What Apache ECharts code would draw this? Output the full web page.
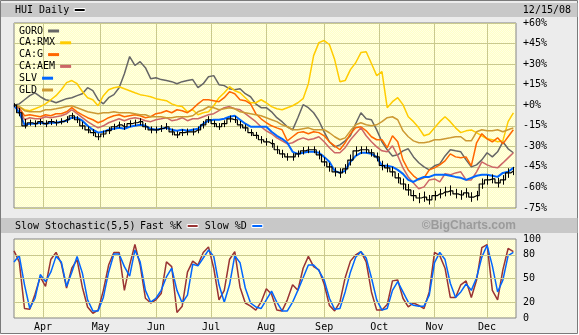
<!DOCTYPE html>
<html>
<head>
<meta charset="utf-8">
<script src="https://cdn.jsdelivr.net/npm/echarts@6/dist/echarts.min.js"></script>
<style>
  html, body { margin: 0; padding: 0; background: #ffffff; }
  #chart { width: 579px; height: 335px; }
</style>
</head>
<body>
<div id="chart"></div>
<script>
// HUI daily (Mar 14 – Dec 15, 2008) with relative-performance comparisons and a slow stochastic pane.
// One sample every two trading sessions; values are % change from the first session.

const SESSION_COUNT = 192;
const monthNames    = ['Apr', 'May', 'Jun', 'Jul', 'Aug', 'Sep', 'Oct', 'Nov', 'Dec'];
const monthStartDay = [11, 33, 54, 75, 96, 118, 139, 160, 180];
const pctMin = -75, pctMax = 60, pctStep = 15;
const stochLabels = [0, 20, 50, 80, 100];
const stochGuides = [20, 50, 80];

const huiClose = [
  0, -5.5, -15, -12.8, -13.5, -12, -13.5, -12, -12.8, -12, -10.6, -7.7,
  -10.6, -15, -18, -20, -23, -21, -18.5, -15.7, -14.3, -15.7, -13.5, -12.8,
  -12, -15.7, -18, -18, -17, -15.7, -19.5, -21.6, -20, -19.4, -19.4, -18,
  -14.3, -10.6, -13.5, -15.7, -13.5, -10, -10.6, -14.3, -16.5, -20, -22, -25.2,
  -26.7, -28, -32.5, -35.5, -37.7, -37.7, -35.5, -33.3, -32.5, -32.5, -36.2, -41.3,
  -45, -48.6, -49.4, -46.5, -40, -33.3, -32.5, -32.5, -34.7, -37.7, -44, -45.7,
  -48.6, -53, -57.5, -61.8, -66, -67.7, -67, -69, -66, -64.7, -63.3, -62.5,
  -64.7, -65.5, -64, -67, -66, -57.5, -54.5, -53.8, -56.7, -54.5, -49.4, -48
];
const huiHigh = [
  1.5, -2, -10, -10.5, -11, -10, -11, -10, -10.5, -9.5, -8, -5.5,
  -8, -12, -15.5, -17.5, -20.5, -18.5, -16, -13.5, -12, -13, -11, -10.5,
  -9.5, -13, -15.5, -15.5, -14.5, -13, -17, -19, -17.5, -17, -17, -15.5,
  -11.5, -8, -11, -13, -11, -7.5, -8, -11.5, -14, -17.5, -19.5, -22.5,
  -24, -25, -29.5, -32.5, -35, -35, -33, -30.5, -30, -30, -33, -38,
  -42, -45.5, -46, -43, -36, -30, -30, -30, -32, -34.5, -40.5, -42.5,
  -45, -49.5, -53.5, -57.5, -62, -64, -63, -65.5, -62.5, -61, -59.5, -58.5,
  -61, -62, -60.5, -63.5, -62.5, -53.5, -51, -50.5, -53, -51, -46, -45
];
const huiLow = [
  -1.5, -8, -17, -15, -16, -14.5, -16, -14.5, -15, -14, -13, -10,
  -13, -17.5, -20.5, -22.5, -25.5, -23.5, -21, -18, -16.5, -18, -16, -15,
  -14.5, -18, -20.5, -20.5, -19.5, -18, -22, -24, -22.5, -22, -22, -20.5,
  -17, -13, -16, -18, -16, -12.5, -13, -17, -19, -22.5, -24.5, -28,
  -29.5, -31, -35.5, -38.5, -40.5, -40.5, -38, -36, -35, -35, -39.5, -44.5,
  -48.5, -52, -53, -50, -44, -37, -35.5, -35, -37.5, -41, -47.5, -49,
  -52, -57, -61.5, -66, -70, -71.5, -70.5, -72.5, -69.5, -68, -66.5, -66,
  -68, -69, -67.5, -70.5, -69.5, -61, -58, -57, -60, -58, -53, -51
];

const goro = [
  0, 1, 4, 7, 9, 6.2, 4, 3.3, 1.8, 3.3, 4.8, 5.5,
  7, 8.4, 12.8, 10.6, 4, 1, 5.5, 7.7, 12.8, 23, 35.5, 29,
  31.8, 27.4, 19.4, 20, 18.7, 18, 17.2, 15.7, 17.2, 18, 18.7, 12.8,
  15.7, 20.8, 21.6, 15, 14.3, 12, 11.3, 12, 8.4, 6.2, 1, -1.8,
  -1.8, -4.8, -9.1, -12, -15.7, -18, -9.1, 0.4, -1.8, -5.5, -11.3, -19.4,
  -26.7, -30.4, -28.9, -26, -22.3, -13.5, -5.5, -9.9, -10.6, -18, -26.7, -32.5,
  -37, -36.2, -33.3, -31.8, -37.7, -42, -45, -47.2, -44.2, -42.8, -37, -32.5,
  -33.3, -34, -39.9, -45, -43.5, -39.9, -34.7, -37.7, -34, -26.7, -31.8, -34.7
];
const caRmx = [
  0, -1, -3.3, -4, -2.6, -1, 1, 4, 7, 11.3, 16.5, 18,
  15.7, 10, 5.5, 4, -0.4, 7, 11.3, 12.8, 13.5, 12, 10.6, 9.1,
  7.7, 7, 6.2, 4.8, 4, 3.3, 1, -0.4, -1, -4.8, -3.3, -7,
  -5.5, -4.8, -0.4, 5.5, 9.1, 13.5, 10.6, 9.1, 5.5, 1.8, 1.8, 4,
  1.8, -1, -2.6, -3.3, -1.8, -0.4, 1.8, 4.8, 15.7, 36.2, 45.7, 47.2,
  44.3, 33.3, 17.2, 18, 26, 31, 38.4, 39, 30.4, 21.6, 24.5, -1.8,
  2.6, 5.5, 0.4, -8.4, -12, -16.5, -22.3, -21, -16.5, -12, -8.4, -12,
  -16.5, -20, -18.7, -18, -20, -22.3, -24.5, -25.2, -26.7, -26, -12, -5.5
];
const caG = [
  0, -2, -7.7, -7, -7.7, -8.4, -7, -7.7, -6.2, -6.2, -4.8, -1.8,
  -4.8, -7, -9.1, -10.6, -12.8, -11.3, -9.1, -7.7, -7, -8.4, -7.7, -7,
  -7.7, -9.1, -8.4, -6.2, -5.5, -4, -5.5, -3.3, -4, -5.5, -2.6, 1,
  4, 4, 3.3, 2.6, 5.5, 9.9, 8.4, 4, 3.3, 1, -6.2, -9.9,
  -12.8, -15, -16.5, -17.9, -26, -23, -20, -19.4, -20.8, -19.4, -20, -22.3,
  -26.7, -29.6, -32.5, -27.4, -20.8, -16.5, -15.7, -18.7, -23, -25.2, -25.2, -31,
  -22.3, -26.7, -39.9, -47.2, -51.5, -54.5, -53, -47.2, -45.7, -43.5, -40.6, -35.5,
  -37.7, -38.4, -37.7, -44.2, -27.4, -20.8, -24.5, -26.7, -23.8, -28.2, -23, -17.9
];
const caAem = [
  0, -2.6, -10.6, -9.1, -9.9, -9.9, -8.4, -9.1, -8.4, -7.7, -6.2, -3.3,
  -6.2, -9.1, -12, -14.3, -16.5, -15, -12.8, -11.3, -9.9, -11.3, -9.9, -9.1,
  -9.9, -11.3, -12, -10.6, -9.9, -9.1, -11.3, -10.6, -9.1, -11.3, -9.9, -9.9,
  -8.4, -7, -6.2, -4, -1.8, -1, -2.6, -3.3, -6.2, -9.1, -12, -15.7,
  -18.7, -20.8, -23.8, -26, -28.2, -27.4, -25.2, -23.8, -25.2, -24.5, -23, -26.7,
  -31, -34.7, -34.7, -31, -25.2, -20.8, -16.5, -22.3, -26.7, -30.4, -33.3, -34,
  -29.6, -36.9, -45.7, -52.3, -56.7, -61, -59.6, -54.5, -53.8, -56, -50, -50.8,
  -49.4, -48.6, -54.5, -54.5, -48.6, -41.3, -43.5, -45, -45.7, -42.1, -38.4, -34.7
];
const slv = [
  0, -5.5, -14.3, -13.5, -13.5, -12.8, -13.5, -12.8, -12.8, -12, -11.3, -9.1,
  -9.1, -11.3, -15, -17.9, -20, -19.4, -17.9, -17.2, -16.5, -17.2, -15.7, -15,
  -14.3, -15, -17.2, -17.9, -17.2, -16.5, -17.9, -18.7, -17.9, -18.7, -17.9, -17.2,
  -13.5, -11.3, -10.6, -10.6, -9.9, -8.4, -7.7, -10.6, -13.5, -15.7, -15.7, -15.7,
  -15.7, -19.4, -22.3, -24.5, -27.4, -34, -35.5, -34.7, -34, -34, -34.7, -37.7,
  -41.3, -47.9, -49.4, -47.9, -41.3, -36.9, -34.7, -34.7, -35.5, -37.7, -44.2, -44.2,
  -45, -47.2, -50.1, -54.5, -56, -53.8, -52.3, -52.3, -50.8, -50.8, -50.8, -51.5,
  -52.3, -53, -54.5, -53, -51.5, -50.8, -50.8, -51.5, -52.3, -49.4, -48.6, -45.7
];
const gld = [
  0, -1, -4, -4.8, -4.8, -4.8, -3.3, -3.3, -2.6, -1.8, -1, -0.4,
  -1.8, -3.3, -4.8, -5.5, -6.2, -5.5, -5.5, -4.8, -5.5, -5.5, -5.5, -6.2,
  -6.9, -6.9, -8.4, -8.4, -8.4, -9.1, -9.1, -8.4, -8.4, -8.4, -7.7, -4.8,
  -3.3, -1.1, -1.8, -3.3, -2.6, -1.8, -2.6, -4.8, -5.5, -6.2, -6.9, -7.7,
  -9.1, -10.6, -12, -14.3, -15.7, -17.9, -17.9, -17.2, -16.5, -17.9, -17.9, -17.9,
  -20.1, -23, -25.2, -23.8, -18.7, -14.3, -12.8, -14.3, -15, -14.3, -12, -9.1,
  -8.4, -10.6, -18.7, -23, -26, -27.4, -27.4, -26.7, -25.2, -25.2, -24.5, -23.8,
  -23, -23, -26, -26, -19.4, -17.9, -18.7, -18.7, -17.9, -19.4, -17.9, -16.5
];

const fastK = [
  85, 71, 12, 11, 30, 52, 40, 74, 83, 69, 38, 63,
  74, 39, 14, 6, 10, 35, 67, 83, 83, 35, 67, 93,
  67, 25, 19, 23, 31, 71, 65, 7, 15, 58, 72, 67,
  83, 90, 63, 23, 35, 74, 84, 39, 19, 15, 10, 20,
  37, 30, 10, 9, 23, 42, 35, 63, 78, 65, 61, 43,
  16, 9, 20, 51, 72, 80, 84, 71, 33, 10, 10, 17,
  47, 48, 25, 14, 19, 16, 12, 33, 83, 79, 63, 26,
  26, 42, 47, 26, 48, 89, 93, 35, 23, 61, 88, 84
];
const slowD = [
  71, 79, 42, 12, 25, 55, 46, 58, 78, 71, 40, 58,
  78, 57, 23, 9, 9, 26, 58, 81, 81, 65, 53, 86,
  71, 35, 20, 25, 35, 52, 63, 35, 19, 29, 68, 66,
  76, 86, 78, 42, 20, 42, 79, 70, 38, 19, 14, 12,
  23, 34, 20, 9, 9, 20, 35, 51, 67, 67, 60, 48,
  25, 11, 12, 33, 58, 77, 84, 76, 51, 23, 10, 12,
  35, 46, 33, 20, 16, 15, 15, 29, 70, 83, 74, 44,
  26, 33, 43, 35, 51, 77, 92, 66, 33, 48, 79, 83
];

// ---- styling ----
const MONO = '"DejaVu Sans Mono", "Liberation Mono", monospace';
const GRID_LINE = '#c9c98e';
const PANEL_GRAY = '#c8c8c8';

// fine dithered pale-yellow fill for the plotting areas
const dither = document.createElement('canvas');
dither.width = 2; dither.height = 2;
(function () {
  const g = dither.getContext('2d');
  g.fillStyle = '#ffffc6'; g.fillRect(0, 0, 2, 2);
  g.fillStyle = '#ffffe4'; g.fillRect(0, 0, 1, 1); g.fillRect(1, 1, 1, 1);
})();
const plotFill = { image: dither, repeat: 'repeat' };

const sessions = Array.from({ length: SESSION_COUNT }, (_, i) => String(i));
const monthAt = {};
monthStartDay.forEach((d, i) => { monthAt[d] = monthNames[i]; });
const isMonthStart = (index) => monthAt[index] !== undefined;

// each sample covers two sessions
const onSessions = (arr) => arr.map((v, k) => [2 * k, v]);

const pctLabel = (v) => (v >= 0 ? '+' : '') + v + '%';

const compare = [
  { name: 'GORO',   data: goro,  color: '#666666', width: 1.5 },
  { name: 'CA:RMX', data: caRmx, color: '#ffcc00', width: 1.5 },
  { name: 'CA:G',   data: caG,   color: '#ff6600', width: 1.5 },
  { name: 'CA:AEM', data: caAem, color: '#cc6666', width: 1.5 },
  { name: 'SLV',    data: slv,   color: '#0066ff', width: 2 },
  { name: 'GLD',    data: gld,   color: '#cc9933', width: 1.5 }
];

const series = compare.map((s) => ({
  name: s.name, type: 'line', xAxisIndex: 0, yAxisIndex: 0,
  data: onSessions(s.data), symbol: 'none', silent: true, z: 2,
  lineStyle: { color: s.color, width: s.width }, itemStyle: { color: s.color }
}));

// HUI: close path as steps plus a high–low bar per sample
series.push({
  name: 'HUI Daily', type: 'line', xAxisIndex: 0, yAxisIndex: 0,
  data: onSessions(huiClose), step: 'middle', symbol: 'none', silent: true, z: 4,
  lineStyle: { color: '#000000', width: 1.2 }, itemStyle: { color: '#000000' }
});
series.push({
  name: 'HUI range', type: 'custom', xAxisIndex: 0, yAxisIndex: 0, silent: true, z: 4,
  data: huiHigh.map((h, k) => [2 * k, huiLow[k], h]),
  encode: { x: 0, y: [1, 2] },
  renderItem: function (params, api) {
    const lo = api.coord([api.value(0), api.value(1)]);
    const hi = api.coord([api.value(0), api.value(2)]);
    const x = Math.round(lo[0]) + 0.5;
    return { type: 'line', shape: { x1: x, y1: lo[1], x2: x, y2: hi[1] },
             style: { stroke: '#000000', lineWidth: 1 } };
  }
});

// stochastic guides at 20 / 50 / 80, kept under the oscillator lines
series.push({
  name: 'guides', type: 'line', xAxisIndex: 1, yAxisIndex: 1, data: [], z: 1, silent: true,
  markLine: {
    silent: true, symbol: 'none', label: { show: false },
    lineStyle: { color: GRID_LINE, type: 'solid', width: 1 },
    data: stochGuides.map((v) => ({ yAxis: v }))
  }
});
series.push({
  name: 'Fast %K', type: 'line', xAxisIndex: 1, yAxisIndex: 1,
  data: onSessions(fastK), symbol: 'none', silent: true, z: 2,
  lineStyle: { color: '#993333', width: 1.5 }, itemStyle: { color: '#993333' }
});
series.push({
  name: 'Slow %D', type: 'line', xAxisIndex: 1, yAxisIndex: 1,
  data: onSessions(slowD), symbol: 'none', silent: true, z: 3,
  lineStyle: { color: '#0066ff', width: 1.5 }, itemStyle: { color: '#0066ff' }
});

const gridBox = { show: true, backgroundColor: plotFill, borderColor: '#858585', borderWidth: 1 };
const legendText = { fontFamily: MONO, fontSize: 10, color: '#000000', lineHeight: 12 };

// one legend block per comparison so each swatch sits right after its own label
const compareLegends = compare.map((s, i) => ({
  data: [s.name], left: 19, top: 25 + i * 11.8, padding: 0, align: 'right',
  icon: 'rect', itemWidth: 11, itemHeight: 3, selectedMode: false,
  textStyle: legendText
}));

const option = {
  animation: false,
  backgroundColor: '#ffffff',
  textStyle: { fontFamily: MONO },
  grid: [
    Object.assign({ left: 14, top: 23, width: 502, height: 185 }, gridBox),
    Object.assign({ left: 14, top: 239, width: 502, height: 79 }, gridBox)
  ],
  xAxis: [
    {
      type: 'category', gridIndex: 0, data: sessions, boundaryGap: false,
      axisLine: { show: false }, axisTick: { show: false }, axisLabel: { show: false },
      splitLine: { show: true, interval: isMonthStart, lineStyle: { color: GRID_LINE, width: 1 } }
    },
    {
      type: 'category', gridIndex: 1, data: sessions, boundaryGap: false,
      axisLine: { show: false }, axisTick: { show: false },
      axisLabel: {
        show: true, interval: isMonthStart, margin: 4,
        formatter: (v) => monthAt[+v] || '',
        fontFamily: MONO, fontSize: 10, color: '#000000'
      },
      splitLine: { show: true, interval: isMonthStart, lineStyle: { color: GRID_LINE, width: 1 } }
    }
  ],
  yAxis: [
    {
      type: 'value', gridIndex: 0, position: 'right',
      min: pctMin, max: pctMax, interval: pctStep,
      axisLine: { show: false }, axisTick: { show: false },
      axisLabel: { margin: 7, formatter: pctLabel, fontFamily: MONO, fontSize: 10, color: '#000000' },
      splitLine: { show: true, lineStyle: { color: GRID_LINE, width: 1 } }
    },
    {
      type: 'value', gridIndex: 1, position: 'right',
      min: 0, max: 100, interval: 10,
      axisLine: { show: false }, axisTick: { show: false },
      axisLabel: {
        margin: 7, formatter: (v) => (stochLabels.indexOf(v) >= 0 ? String(v) : ''),
        fontFamily: MONO, fontSize: 10, color: '#000000'
      },
      splitLine: { show: false }
    }
  ],
  legend: [
    {
      data: ['HUI Daily'], left: 15, top: 4, padding: 0, align: 'right',
      icon: 'rect', itemWidth: 11, itemHeight: 3, selectedMode: false,
      itemStyle: { borderColor: '#ffffff', borderWidth: 1 },
      textStyle: legendText
    }
  ].concat(compareLegends, [
    {
      data: ['Fast %K', 'Slow %D'], left: 140, top: 220, padding: 0, align: 'right',
      itemGap: 6, icon: 'rect', itemWidth: 11, itemHeight: 3, selectedMode: false,
      itemStyle: { borderColor: '#ffffff', borderWidth: 1 },
      textStyle: legendText
    }
  ]),
  graphic: [
    { type: 'rect', z: -20, silent: true, shape: { x: 0.5, y: 0.5, width: 577, height: 333 },
      style: { fill: '#ececec', stroke: '#7a7a7a', lineWidth: 1 } },
    { type: 'rect', z: -10, silent: true, shape: { x: 1, y: 3, width: 576.5, height: 14 },
      style: { fill: PANEL_GRAY } },
    { type: 'rect', z: -10, silent: true, shape: { x: 1, y: 218, width: 576.5, height: 15 },
      style: { fill: PANEL_GRAY } },
    { type: 'text', z: 5, silent: true, x: 571, y: 10,
      style: { text: '12/15/08', align: 'right', verticalAlign: 'middle',
               font: '10px ' + MONO, fill: '#000000' } },
    { type: 'text', z: 5, silent: true, x: 15, y: 226,
      style: { text: 'Slow Stochastic(5,5)', align: 'left', verticalAlign: 'middle',
               font: '10px ' + MONO, fill: '#000000' } },
    { type: 'text', z: 5, silent: true, x: 516, y: 226,
      style: { text: '\u00a9BigCharts.com', align: 'right', verticalAlign: 'middle',
               font: 'bold 12px "Liberation Sans", Arial, sans-serif', fill: '#9b9b9b' } }
  ],
  series: series
};

const chart = echarts.init(document.getElementById('chart'), null, { renderer: 'canvas' });
chart.setOption(option);
</script>
</body>
</html>
